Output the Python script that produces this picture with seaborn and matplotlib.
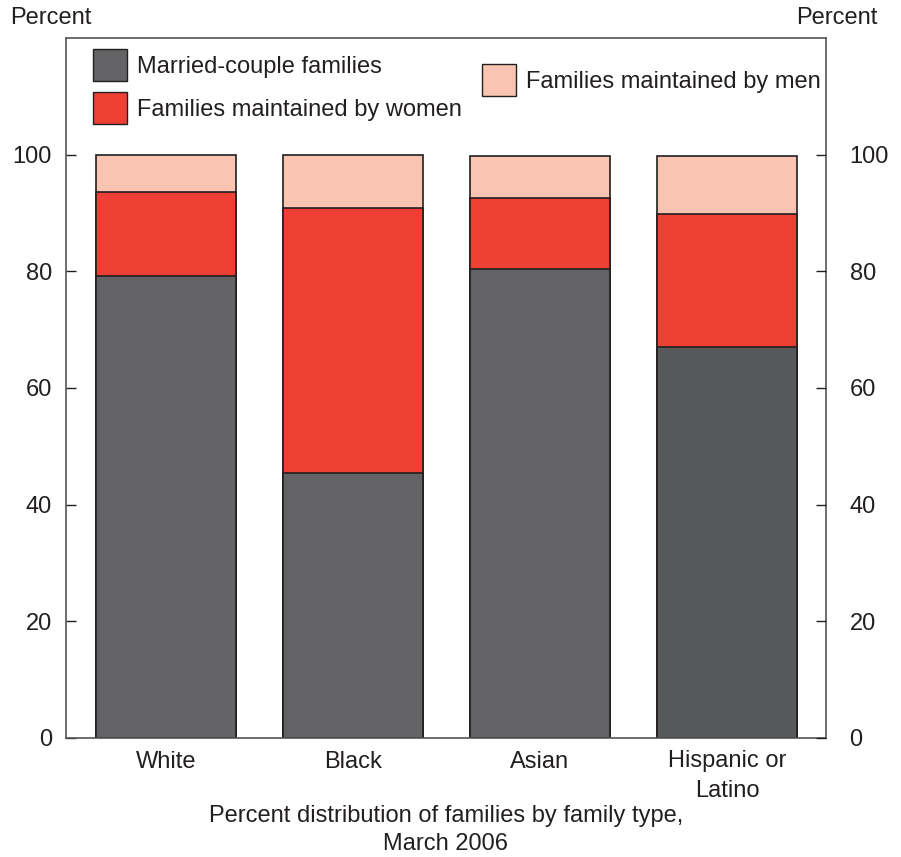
import numpy as np
import pandas as pd
import matplotlib
matplotlib.use('Agg')
import matplotlib.pyplot as plt
import seaborn as sns
from matplotlib.patches import Patch

# Data (percent distribution of families, March 2006)
groups = ['White', 'Black', 'Asian', 'Hispanic or\nLatino']
married = [79.2, 45.4, 80.4, 67.1]
women = [14.4, 45.5, 12.1, 22.8]
men = [6.4, 9.1, 7.2, 9.8]

sns.set_style('white')
plt.rcParams['font.family'] = ['Liberation Sans', 'DejaVu Sans']

married_c = '#636365'
women_c = '#ee3f34'
men_c = '#f9c4b1'
edge_c = '#231f20'
txt_c = '#231f20'
FS = 17

df = pd.DataFrame({'group': groups, 'married': married,
                   'women': women, 'men': men})
df['lvl2'] = df['married'] + df['women']
df['lvl3'] = df['lvl2'] + df['men']

fig = plt.figure(figsize=(9.01, 8.57), dpi=100)
ax = fig.add_axes([66 / 901, 1 - 738 / 857, 760 / 901, 700 / 857])

# stacked look by overlaying cumulative totals
sns.barplot(data=df, x='group', y='lvl3', color=men_c, width=0.75, saturation=1,
            edgecolor=edge_c, linewidth=1.2, ax=ax, errorbar=None)
sns.barplot(data=df, x='group', y='lvl2', color=women_c, width=0.75, saturation=1,
            edgecolor=edge_c, linewidth=1.2, ax=ax, errorbar=None)
sns.barplot(data=df, x='group', y='married', hue='group',
            palette=[married_c, married_c, married_c, '#57585a'], saturation=1,
            legend=False, width=0.75, edgecolor=edge_c, linewidth=1.2,
            ax=ax, errorbar=None)

ax.set_xlim(-0.535, 3.53)
ax.set_ylim(0, 120)
ax.set_xlabel('Percent distribution of families by family type,\nMarch 2006',
              fontsize=FS, color=txt_c, labelpad=2, linespacing=1.35)
ax.set_ylabel('')
ax.set_yticks([0, 20, 40, 60, 80, 100])
ax.tick_params(axis='x', length=0, labelsize=FS, colors=txt_c, pad=9)
for lab in ax.get_xticklabels():
    lab.set_linespacing(1.45)
for s in ax.spines.values():
    s.set_color('#555555')
    s.set_linewidth(1.2)

# right-hand axis for the mirrored ticks and labels
axr = ax.twinx()
axr.set_ylim(ax.get_ylim())
axr.set_yticks([0, 20, 40, 60, 80, 100])
axr.tick_params(axis='y', direction='in', length=7, width=1, labelsize=FS,
                colors=txt_c, pad=17)
axr.grid(False)
for s in axr.spines.values():
    s.set_visible(False)

ax.tick_params(axis='y', direction='in', length=7, width=1, labelsize=FS,
               left=True, right=False, labelleft=True, labelright=False,
               colors=txt_c, pad=10)

fig.text(10 / 901, 1 - 18 / 857, 'Percent', fontsize=FS, va='center',
         ha='left', color=txt_c)
fig.text(877 / 901, 1 - 18 / 857, 'Percent', fontsize=FS, va='center',
         ha='right', color=txt_c)

leg_kw = dict(frameon=False, fontsize=FS, handlelength=1.45, handleheight=1.72,
              handletextpad=0.4, labelspacing=0.45, borderaxespad=0,
              borderpad=0, loc='upper left', bbox_transform=fig.transFigure,
              labelcolor=txt_c)
h1 = [Patch(facecolor=married_c, edgecolor=edge_c, label='Married-couple families'),
      Patch(facecolor=women_c, edgecolor=edge_c, label='Families maintained by women')]
leg1 = axr.legend(handles=h1, bbox_to_anchor=(93 / 901, 1 - 49 / 857), **leg_kw)
axr.add_artist(leg1)
h2 = [Patch(facecolor=men_c, edgecolor=edge_c, label='Families maintained by men')]
axr.legend(handles=h2, bbox_to_anchor=(482 / 901, 1 - 64 / 857), **leg_kw)

fig.savefig('out.png', dpi=100)
